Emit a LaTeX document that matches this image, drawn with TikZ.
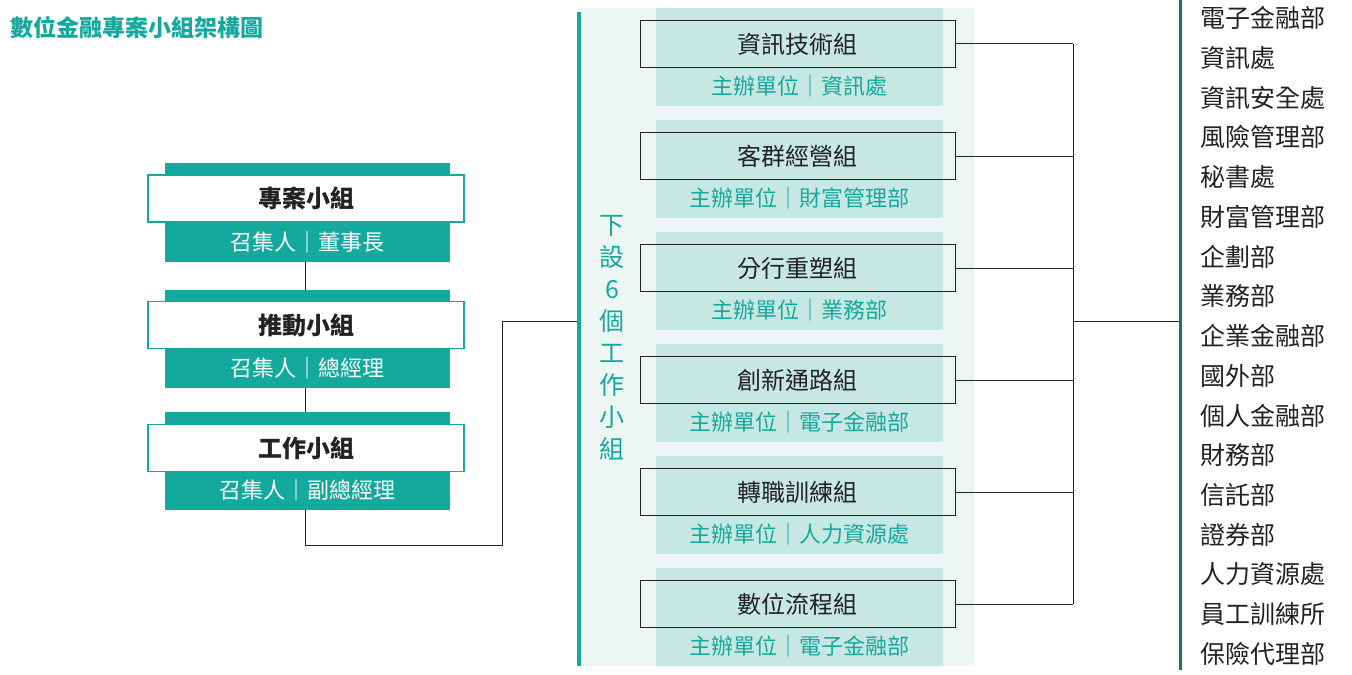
\documentclass[tikz,border=0pt]{standalone}
\usepackage{fontspec}
\setmainfont{Noto Sans CJK TC}
\usetikzlibrary{positioning}
\definecolor{teal}{HTML}{14A99D}
\definecolor{panel}{HTML}{EEF6F4}
\definecolor{card}{HTML}{C7E7E3}
\definecolor{ink}{HTML}{222222}
\tikzset{
  band/.style={fill=teal, draw=none},
  head/.style={draw=teal, fill=white, line width=0.6pt, minimum width=158pt, minimum height=23.5pt, font=\fontsize{12}{12}\selectfont\bfseries, text=ink},
  sub/.style={text=white, font=\fontsize{11}{11}\selectfont},
  task/.style={draw=ink, line width=0.5pt, minimum width=157.5pt, minimum height=23.5pt, font=\fontsize{12}{12}\selectfont, text=ink},
  lead/.style={text=teal, font=\fontsize{11}{11}\selectfont},
  unit/.style={anchor=west, font=\fontsize{12.5}{12.5}\selectfont, text=ink},
  link/.style={draw=ink, line width=0.5pt}
}
\begin{document}
\begin{tikzpicture}[x=0.5pt, y=-0.5pt]
    \useasboundingbox (0,0) rectangle (1352,674);
    \node[anchor=west, text=teal, font=\fontsize{11.5}{11.5}\selectfont\bfseries] (title) at (3,28) {數位金融專案小組架構圖};
    % left side
    \fill[band] (165,163) rectangle (450,262);
    \node[head] (g1) at (306,198.5) {專案小組};
    \node[sub] (s1) at (307,242) {召集人｜董事長};
    \fill[band] (165,290) rectangle (450,388);
    \node[head] (g2) at (306,325) {推動小組};
    \node[sub] (s2) at (307,368) {召集人｜總經理};
    \fill[band] (165,412) rectangle (450,510);
    \node[head] (g3) at (306,448) {工作小組};
    \node[sub] (s3) at (307,490) {召集人｜副總經理};
    \coordinate (j1) at (305,262);
    \coordinate (j2) at (305,290);
    \coordinate (j3) at (305,388);
    \coordinate (j4) at (305,412);
    \coordinate (j5) at (305,510);
    \coordinate (jin) at (578,321);
    \draw[link] (j1) -- (j2);
    \draw[link] (j3) -- (j4);
    \draw[link] (j5) |- (502,545) |- (jin);
    % middle panel
    \fill[panel] (580,8) rectangle (974,666);
    \fill[teal] (577,12) rectangle (581,666);
    \node[text=teal, font=\fontsize{12.5}{16}\selectfont, align=center] (side) at (612,338)
      {下\\設\\6\\個\\工\\作\\小\\組};
    \coordinate (bus) at (1073,321);
    \foreach \name/\lead [count=\i from 0] in {資訊技術組/資訊處, 客群經營組/財富管理部, 分行重塑組/業務部, 創新通路組/電子金融部, 轉職訓練組/人力資源處, 數位流程組/電子金融部}{
      \fill[card] (656,8+112*\i) rectangle (943,106+112*\i);
      \node[task] (t\i) at (797.5,44+112*\i) {\name};
      \node[lead] (l\i) at (799,86+112*\i) {主辦單位｜\lead};
      \draw[link] (t\i.east) -- (bus |- t\i.east);
    }
    \draw[link] (bus |- t0.east) -- (bus |- t5.east);
    \draw[link] (bus) -- (1180,321);
    % right list
    \fill[teal!60!ink] (1179,0) rectangle (1182,670);
    \foreach \unit [count=\j from 0] in {電子金融部, 資訊處, 資訊安全處, 風險管理部, 秘書處, 財富管理部, 企劃部, 業務部, 企業金融部, 國外部, 個人金融部, 財務部, 信託部, 證券部, 人力資源處, 員工訓練所, 保險代理部}{
      \node[unit] (u\j) at (1193,18+39.75*\j) {\unit};
    }
\end{tikzpicture}
\end{document}
